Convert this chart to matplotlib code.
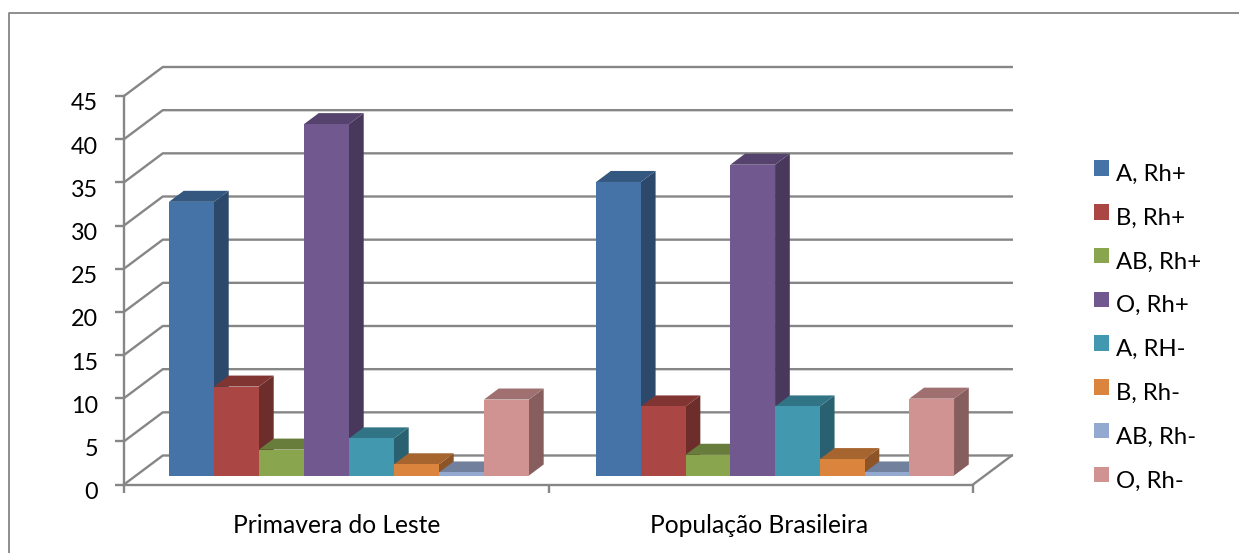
import matplotlib
matplotlib.use("Agg")
import matplotlib.pyplot as plt
from matplotlib.lines import Line2D
from matplotlib.patches import Patch, Polygon, Rectangle
from matplotlib.legend_handler import HandlerPatch
from matplotlib.transforms import ScaledTranslation

categories = ["Primavera do Leste", "População Brasileira"]
series = ["A, Rh+", "B, Rh+", "AB, Rh+", "O, Rh+", "A, RH-", "B, Rh-", "AB, Rh-", "O, Rh-"]
primavera = [31.7, 10.3, 3.0, 40.7, 4.3, 1.3, 0.35, 8.8]
brasileira = [34.0, 8.0, 2.4, 36.0, 8.0, 1.9, 0.35, 8.9]
colors = ["#4572A7", "#AA4643", "#89A54E", "#71588F", "#4198AF", "#DB843D", "#93A9CF", "#D19392"]
yticks = list(range(0, 50, 5))

W, H = 1239, 553
GRAY = "#868686"
plt.rcParams["font.family"] = ["Lato", "DejaVu Sans"]
FS = 17.2

fig = plt.figure(figsize=(W / 100, H / 100), dpi=100)
L, R, T, B = 124, 973, 96, 484.5
ax = fig.add_axes([L / W, 1 - B / H, (R - L) / W, (B - T) / H])
ax.set_xlim(0, 2)
ax.set_ylim(0, 45)
ax.patch.set_alpha(0)

# oblique depth projection: depth d in 0..1 shifts a point by (DX, DY) in data units
DX = 38.8 / ((R - L) / 2)
DY = 29.0 / ((B - T) / 45)
def proj(x, v, d):
    return x + d * DX, v + d * DY

# chart frame (open on right and bottom, as in the source)
fig.add_artist(Line2D([9 / W, 9 / W, 1], [0, 1 - 13 / H, 1 - 13 / H], color=GRAY, lw=1.3))

# back wall gridlines and floor
lw = 1.7
for v in yticks:
    p0 = proj(0, v, 0); p1 = proj(0, v, 1); p2 = proj(2, v, 1)
    ax.plot([p0[0], p1[0], p2[0]], [p0[1], p1[1], p2[1]], color=GRAY, lw=lw, clip_on=False, zorder=1)
p1 = proj(2, 0, 1)
ax.plot([2, p1[0]], [0, p1[1]], color=GRAY, lw=lw, clip_on=False, zorder=1)

# bars
def shade(c, f):
    r, g, b = matplotlib.colors.to_rgb(c)
    return (r * f, g * f, b * f)

bar_ws = [0.106, 0.1054]
margins = [0.0776, 0.0838]
d0, d1 = 0.31, 0.69
z = 3
for g, vals in enumerate([primavera, brasileira]):
    bar_w = bar_ws[g]
    for i, v in enumerate(vals):
        c = colors[i]
        x0 = g + margins[g] + i * bar_w
        x1 = x0 + bar_w
        top = [proj(x0, v, d0), proj(x1, v, d0), proj(x1, v, d1), proj(x0, v, d1)]
        side = [proj(x1, 0, d0), proj(x1, v, d0), proj(x1, v, d1), proj(x1, 0, d1)]
        ax.add_patch(Polygon(side, closed=True, fc=shade(c, 0.64), ec="none", clip_on=False, zorder=z))
        ax.add_patch(Polygon(top, closed=True, fc=shade(c, 0.76), ec="none", clip_on=False, zorder=z))
        fx, fb = proj(x0, 0, d0)
        ax.bar(fx, v, width=bar_w, bottom=fb, align="edge", color=c, lw=0, clip_on=False, zorder=z)
        z += 1

# axes
for s in ("top", "right"):
    ax.spines[s].set_visible(False)
for s in ("left", "bottom"):
    ax.spines[s].set_color(GRAY)
    ax.spines[s].set_linewidth(lw)
    ax.spines[s].set_zorder(2)
ax.set_yticks(yticks)
ax.tick_params(axis="y", length=6.5, width=lw, color=GRAY, pad=12.2, labelsize=FS - 0.4, labelcolor="black")
ax.set_xticks([0, 1, 2])
ax.set_xticklabels([])
ax.set_xticks([0.5, 1.496], minor=True)
ax.set_xticklabels(categories, minor=True)
ax.tick_params(axis="x", which="major", length=5.5, width=lw, color=GRAY)
ax.tick_params(axis="x", which="minor", length=0, pad=21.5, labelsize=FS + 0.5, labelcolor="black")
shift = ScaledTranslation(0, -6 / 100, fig.dpi_scale_trans)
for lab in ax.get_yticklabels():
    lab.set_transform(lab.get_transform() + shift)

# legend: swatches sit slightly above the text centre
class Swatch(HandlerPatch):
    def create_artists(self, legend, orig, xd, yd, width, height, fontsize, trans):
        r = Rectangle((-xd, -yd + 3.3), width, height, fc=orig.get_facecolor(), ec="none", transform=trans)
        return [r]

handles = [Patch(facecolor=c, label=s) for c, s in zip(colors, series)]
leg = fig.legend(handles=handles, loc="upper left", bbox_to_anchor=(1094 / W, 1 - 164 / H),
                 frameon=False, fontsize=FS, borderpad=0, borderaxespad=0,
                 handlelength=15 / 1.389 / FS, handleheight=15 / 1.389 / FS,
                 handletextpad=0.31, labelspacing=0.953,
                 handler_map={Patch: Swatch()})

fig.savefig("out.png", dpi=100, facecolor="white")
